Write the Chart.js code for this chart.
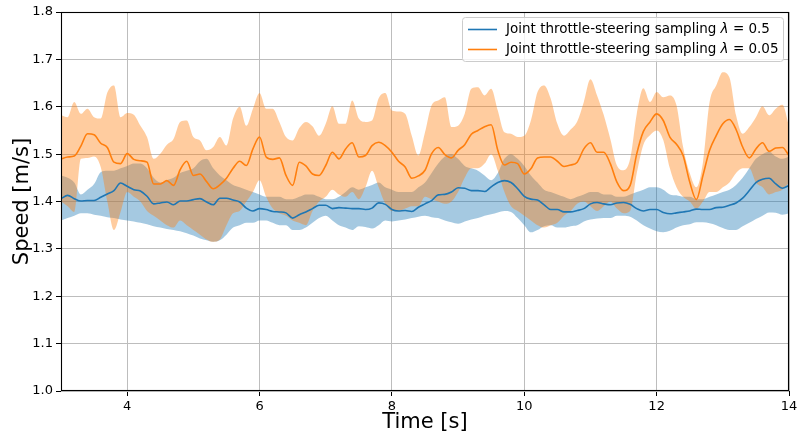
<!DOCTYPE html>
<html>
<head>
<meta charset="utf-8">
<script src="https://cdn.jsdelivr.net/npm/chart.js@4.4.1/dist/chart.umd.min.js"></script>
<style>
  html, body { margin: 0; padding: 0; background: #ffffff; }
  canvas { display: block; }
</style>
</head>
<body>
<canvas id="speedChart" width="797" height="435"></canvas>
<script>
// Speed traces sampled every 0.1 s from t = 3.0 s to t = 14.0 s.
const blueMean = [
  1.406, 1.413, 1.406, 1.401, 1.402, 1.402, 1.409, 1.416, 1.423, 1.439,
  1.432, 1.425, 1.422, 1.411, 1.395, 1.397, 1.399, 1.393, 1.401, 1.401,
  1.404, 1.406, 1.399, 1.393, 1.407, 1.407, 1.403, 1.399, 1.386, 1.380,
  1.385, 1.383, 1.379, 1.378, 1.376, 1.365, 1.372, 1.378, 1.385, 1.392,
  1.392, 1.385, 1.387, 1.386, 1.385, 1.385, 1.383, 1.386, 1.397, 1.394,
  1.383, 1.380, 1.381, 1.379, 1.388, 1.395, 1.402, 1.414, 1.415, 1.420,
  1.429, 1.428, 1.423, 1.423, 1.421, 1.431, 1.440, 1.444, 1.440, 1.427,
  1.411, 1.405, 1.403, 1.393, 1.383, 1.383, 1.378, 1.378, 1.381, 1.385,
  1.395, 1.398, 1.395, 1.393, 1.397, 1.398, 1.394, 1.385, 1.380, 1.383,
  1.383, 1.377, 1.374, 1.376, 1.378, 1.380, 1.384, 1.383, 1.383, 1.387,
  1.388, 1.392, 1.397, 1.407, 1.423, 1.440, 1.447, 1.449, 1.437, 1.428,
  1.434
];
const blueUpper = [
  1.455, 1.450, 1.440, 1.415, 1.425, 1.437, 1.462, 1.465, 1.465, 1.470,
  1.475, 1.480, 1.480, 1.470, 1.450, 1.440, 1.445, 1.450, 1.460, 1.465,
  1.470, 1.485, 1.490, 1.470, 1.455, 1.445, 1.435, 1.430, 1.425, 1.420,
  1.415, 1.410, 1.410, 1.410, 1.405, 1.405, 1.410, 1.415, 1.415, 1.410,
  1.405, 1.405, 1.410, 1.420, 1.430, 1.425, 1.430, 1.435, 1.440, 1.430,
  1.425, 1.420, 1.420, 1.420, 1.430, 1.440, 1.460, 1.480, 1.495, 1.500,
  1.490, 1.475, 1.470, 1.465, 1.455, 1.445, 1.460, 1.490, 1.500, 1.490,
  1.475, 1.455, 1.440, 1.425, 1.420, 1.415, 1.410, 1.405, 1.410, 1.415,
  1.420, 1.420, 1.415, 1.415, 1.410, 1.410, 1.415, 1.420, 1.425, 1.430,
  1.430, 1.425, 1.415, 1.413, 1.410, 1.410, 1.405, 1.405, 1.410, 1.415,
  1.420, 1.425, 1.435, 1.450, 1.470, 1.490, 1.500, 1.505, 1.495, 1.490,
  1.495
];
const blueLower = [
  1.360, 1.365, 1.370, 1.375, 1.375, 1.372, 1.370, 1.367, 1.365, 1.362,
  1.360, 1.358, 1.355, 1.352, 1.348, 1.345, 1.342, 1.340, 1.337, 1.333,
  1.328, 1.322, 1.318, 1.315, 1.318, 1.330, 1.345, 1.350, 1.355, 1.355,
  1.360, 1.360, 1.355, 1.350, 1.350, 1.340, 1.340, 1.345, 1.355, 1.365,
  1.370, 1.360, 1.350, 1.345, 1.340, 1.348, 1.346, 1.343, 1.350, 1.360,
  1.358, 1.360, 1.362, 1.365, 1.368, 1.370, 1.367, 1.365, 1.360, 1.356,
  1.353, 1.358, 1.362, 1.365, 1.370, 1.373, 1.377, 1.380, 1.378, 1.365,
  1.350, 1.335, 1.340, 1.348, 1.350, 1.345, 1.345, 1.348, 1.350, 1.358,
  1.362, 1.364, 1.365, 1.365, 1.370, 1.370, 1.368, 1.360, 1.350, 1.343,
  1.337, 1.335, 1.338, 1.345, 1.350, 1.352, 1.356, 1.356, 1.354, 1.350,
  1.344, 1.340, 1.340, 1.348, 1.355, 1.363, 1.370, 1.377, 1.376, 1.372,
  1.375
];
const orangeMean = [
  1.490, 1.494, 1.496, 1.517, 1.543, 1.541, 1.523, 1.514, 1.483, 1.480,
  1.501, 1.489, 1.486, 1.483, 1.437, 1.437, 1.444, 1.434, 1.467, 1.485,
  1.455, 1.458, 1.442, 1.427, 1.435, 1.449, 1.470, 1.485, 1.476, 1.511,
  1.536, 1.494, 1.489, 1.492, 1.455, 1.434, 1.483, 1.475, 1.458, 1.455,
  1.476, 1.504, 1.490, 1.511, 1.524, 1.494, 1.497, 1.518, 1.525, 1.518,
  1.504, 1.485, 1.473, 1.449, 1.454, 1.466, 1.501, 1.514, 1.499, 1.492,
  1.508, 1.520, 1.542, 1.550, 1.558, 1.562, 1.508, 1.477, 1.483, 1.480,
  1.458, 1.469, 1.492, 1.494, 1.494, 1.485, 1.474, 1.477, 1.483, 1.511,
  1.524, 1.504, 1.504, 1.480, 1.441, 1.423, 1.434, 1.501, 1.548, 1.568,
  1.585, 1.571, 1.536, 1.521, 1.497, 1.441, 1.404, 1.455, 1.508, 1.539,
  1.564, 1.573, 1.552, 1.515, 1.492, 1.511, 1.524, 1.506, 1.513, 1.514,
  1.497
];
const orangeUpper = [
  1.582, 1.578, 1.610, 1.585, 1.596, 1.578, 1.575, 1.630, 1.645, 1.578,
  1.587, 1.583, 1.560, 1.536, 1.490, 1.501, 1.520, 1.532, 1.568, 1.571,
  1.536, 1.529, 1.508, 1.515, 1.536, 1.518, 1.575, 1.600, 1.560, 1.596,
  1.629, 1.596, 1.596, 1.568, 1.536, 1.529, 1.555, 1.568, 1.559, 1.539,
  1.564, 1.601, 1.564, 1.564, 1.613, 1.575, 1.568, 1.571, 1.618, 1.629,
  1.592, 1.590, 1.585, 1.539, 1.497, 1.546, 1.603, 1.613, 1.620, 1.557,
  1.560, 1.585, 1.638, 1.641, 1.624, 1.638, 1.592, 1.546, 1.543, 1.536,
  1.539, 1.571, 1.631, 1.645, 1.617, 1.564, 1.539, 1.552, 1.569, 1.610,
  1.658, 1.624, 1.583, 1.532, 1.476, 1.466, 1.490, 1.585, 1.639, 1.610,
  1.631, 1.620, 1.624, 1.603, 1.515, 1.460, 1.430, 1.483, 1.610, 1.645,
  1.673, 1.662, 1.582, 1.543, 1.557, 1.578, 1.601, 1.582, 1.596, 1.604,
  1.560
];
const orangeLower = [
  1.400, 1.390, 1.378, 1.490, 1.492, 1.495, 1.473, 1.400, 1.340, 1.378,
  1.420, 1.410, 1.400, 1.380, 1.370, 1.360, 1.350, 1.345, 1.360, 1.350,
  1.340, 1.330, 1.320, 1.315, 1.320, 1.350, 1.375, 1.380, 1.400, 1.420,
  1.445, 1.410, 1.385, 1.375, 1.370, 1.360, 1.355, 1.350, 1.380, 1.400,
  1.410, 1.425, 1.415, 1.410, 1.420, 1.405, 1.430, 1.465, 1.430, 1.395,
  1.380, 1.380, 1.385, 1.390, 1.390, 1.410, 1.405, 1.400, 1.395, 1.400,
  1.420, 1.450, 1.470, 1.470, 1.480, 1.500, 1.465, 1.420, 1.390, 1.380,
  1.370, 1.360, 1.350, 1.345, 1.350, 1.355, 1.370, 1.380, 1.395, 1.400,
  1.390, 1.380, 1.390, 1.400, 1.385, 1.375, 1.380, 1.460, 1.520, 1.540,
  1.550, 1.530, 1.470, 1.430, 1.410, 1.400, 1.385, 1.400, 1.420, 1.420,
  1.430, 1.440, 1.460, 1.470, 1.470, 1.440, 1.430, 1.415, 1.420, 1.425,
  1.440
];

const lambdas = ['0.5', '0.05'];
const seriesLabels = lambdas.map(l => 'Joint throttle-steering sampling \u03bb = ' + l);
const xTickValues = [4, 6, 8, 10, 12, 14];
const yTickValues = [1.0, 1.1, 1.2, 1.3, 1.4, 1.5, 1.6, 1.7, 1.8];

const times = blueMean.map((_, i) => (30 + i) / 10);
const pts = arr => times.map((t, i) => ({ x: t, y: arr[i] }));

const BLUE = '#1f77b4';
const ORANGE = '#ff7f0e';
const FONT = "'DejaVu Sans', sans-serif";

const lineStyle = {
  pointRadius: 0,
  cubicInterpolationMode: 'monotone'
};

// Frame, axis titles and an in-axes legend box.
const decorations = {
  id: 'decorations',
  afterDraw(chart) {
    const ctx = chart.ctx;
    const a = chart.chartArea;
    ctx.save();

    // spines
    ctx.strokeStyle = '#000000';
    ctx.lineWidth = 1.1;
    ctx.strokeRect(a.left + 0.5, a.top + 0.5, a.right - a.left - 1, a.bottom - a.top - 1);

    // axis titles
    ctx.fillStyle = '#000000';
    ctx.font = '21px ' + FONT;
    ctx.textAlign = 'center';
    ctx.textBaseline = 'alphabetic';
    ctx.fillText('Time [s]', (a.left + a.right) / 2, 428);
    ctx.save();
    ctx.translate(28, (a.top + a.bottom) / 2);
    ctx.rotate(-Math.PI / 2);
    ctx.fillText('Speed [m/s]', 0, 0);
    ctx.restore();

    // legend
    const bx = 462.5, by = 17.5, bw = 321, bh = 44, r = 3;
    ctx.beginPath();
    ctx.moveTo(bx + r, by);
    ctx.lineTo(bx + bw - r, by);
    ctx.arcTo(bx + bw, by, bx + bw, by + r, r);
    ctx.lineTo(bx + bw, by + bh - r);
    ctx.arcTo(bx + bw, by + bh, bx + bw - r, by + bh, r);
    ctx.lineTo(bx + r, by + bh);
    ctx.arcTo(bx, by + bh, bx, by + bh - r, r);
    ctx.lineTo(bx, by + r);
    ctx.arcTo(bx, by, bx + r, by, r);
    ctx.closePath();
    ctx.fillStyle = 'rgba(255,255,255,0.8)';
    ctx.fill();
    ctx.strokeStyle = '#cccccc';
    ctx.lineWidth = 1;
    ctx.stroke();

    const colors = [BLUE, ORANGE];
    const rowY = [29.5, 49.5];
    ctx.textAlign = 'left';
    ctx.textBaseline = 'middle';
    for (let i = 0; i < lambdas.length; i++) {
      ctx.strokeStyle = colors[i];
      ctx.lineWidth = 1.6;
      ctx.beginPath();
      ctx.moveTo(468, rowY[i]);
      ctx.lineTo(497, rowY[i]);
      ctx.stroke();

      ctx.fillStyle = '#000000';
      let x = 506;
      const prefix = 'Joint throttle-steering sampling ';
      ctx.font = '13.5px ' + FONT;
      ctx.fillText(prefix, x, rowY[i]);
      x += ctx.measureText(prefix).width;
      ctx.font = 'italic 13.5px ' + FONT;
      ctx.fillText('\u03bb', x, rowY[i]);
      x += ctx.measureText('\u03bb').width;
      ctx.font = '13.5px ' + FONT;
      const rest = ' = ' + lambdas[i];
      ctx.fillText(rest, x, rowY[i]);
    }
    ctx.restore();
  }
};

new Chart(document.getElementById('speedChart'), {
  type: 'line',
  data: {
    datasets: [
      Object.assign({ label: seriesLabels[1], data: pts(orangeMean), borderColor: ORANGE,
        borderWidth: 1.6, fill: false, order: 0 }, lineStyle),
      Object.assign({ label: seriesLabels[0], data: pts(blueMean), borderColor: BLUE,
        borderWidth: 1.6, fill: false, order: 1 }, lineStyle),
      Object.assign({ label: 'orange upper', data: pts(orangeUpper), borderWidth: 0,
        borderColor: 'rgba(0,0,0,0)', backgroundColor: 'rgba(255,127,14,0.4)',
        fill: '+1', order: 2 }, lineStyle),
      Object.assign({ label: 'orange lower', data: pts(orangeLower), borderWidth: 0,
        borderColor: 'rgba(0,0,0,0)', fill: false, order: 2 }, lineStyle),
      Object.assign({ label: 'blue upper', data: pts(blueUpper), borderWidth: 0,
        borderColor: 'rgba(0,0,0,0)', backgroundColor: 'rgba(31,119,180,0.4)',
        fill: '+1', order: 3 }, lineStyle),
      Object.assign({ label: 'blue lower', data: pts(blueLower), borderWidth: 0,
        borderColor: 'rgba(0,0,0,0)', fill: false, order: 3 }, lineStyle)
    ]
  },
  options: {
    responsive: false,
    animation: false,
    devicePixelRatio: 1,
    layout: { padding: { left: 0, right: 8, top: 12, bottom: 0 } },
    plugins: {
      legend: { display: false },
      tooltip: { enabled: false }
    },
    scales: {
      x: {
        type: 'linear',
        min: 3,
        max: 14,
        afterBuildTicks: s => { s.ticks = xTickValues.map(v => ({ value: v })); },
        afterFit: s => { s.height = 44; s.paddingLeft = 0; s.paddingRight = 0; },
        ticks: {
          font: { family: FONT, size: 13 },
          color: '#000000',
          padding: 3,
          maxRotation: 0,
          callback: v => String(v)
        },
        grid: { color: '#bdbdbd', lineWidth: 1, tickLength: 5, tickColor: '#000000', drawTicks: true },
        border: { display: false }
      },
      y: {
        type: 'linear',
        min: 1.0,
        max: 1.8,
        afterBuildTicks: s => { s.ticks = yTickValues.map(v => ({ value: v })); },
        afterFit: s => { s.width = 61; s.paddingTop = 0; s.paddingBottom = 0; },
        ticks: {
          font: { family: FONT, size: 13 },
          color: '#000000',
          padding: 3,
          callback: v => Number(v).toFixed(1)
        },
        grid: { color: '#bdbdbd', lineWidth: 1, tickLength: 5, tickColor: '#000000', drawTicks: true },
        border: { display: false }
      }
    }
  },
  plugins: [decorations]
});
</script>
</body>
</html>
